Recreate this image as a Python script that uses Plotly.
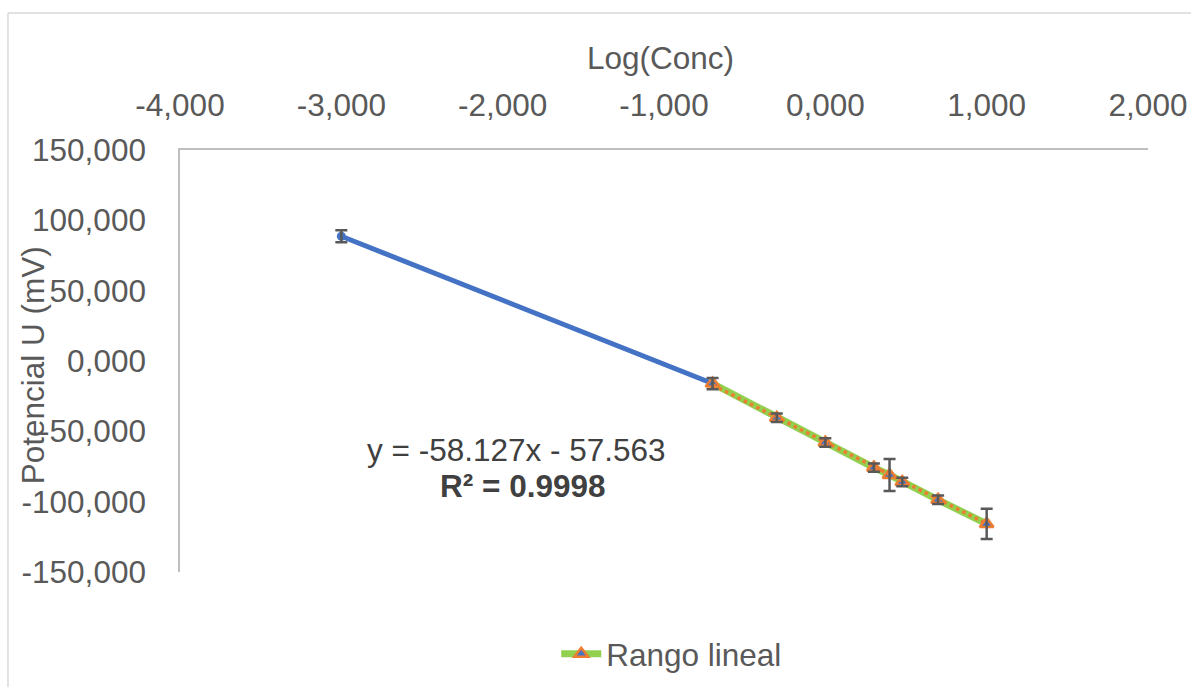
import plotly.graph_objects as go
import numpy as np

# Data
log_conc = [-3.000, -0.699, -0.301, 0.000, 0.301, 0.398, 0.477, 0.699, 1.000]
potencial = [88.7, -16.0, -40.3, -58.0, -75.8, -81.0, -86.0, -98.7, -115.8]
error_mv = [4.3, 4.0, 3.0, 3.0, 3.0, 11.4, 3.0, 3.0, 10.7]

# Linear range (Rango lineal) = all points except the first
lin_x = log_conc[1:]
lin_y = potencial[1:]

# Tick values / labels (hyphen minus as in the reference)
x_ticks = [-4, -3, -2, -1, 0, 1, 2]
x_ticktext = ["-4,000", "-3,000", "-2,000", "-1,000", "0,000", "1,000", "2,000"]
y_ticks = [150, 100, 50, 0, -50, -100, -150]
y_ticktext = ["150,000", "100,000", "50,000", "0,000", "-50,000", "-100,000", "-150,000"]

# Trendline coefficients (from the equation shown on the chart)
slope = -58.127
intercept = -57.563
eq_text = "y = -58.127x - 57.563"
r2_text = "<b>R² = 0.9998</b>"

FONT = "Liberation Sans, Arial, sans-serif"
GREY = "#595959"
FS = 31.5

fig = go.Figure()

fig.add_trace(go.Scatter(
    x=log_conc, y=potencial, mode="lines+markers", name="Serie1",
    showlegend=False,
    line=dict(color="#4472C4", width=5),
    marker=dict(symbol="circle", size=9, color="#4472C4"),
))

fig.add_trace(go.Scatter(
    x=lin_x, y=lin_y, mode="lines+markers", name="Rango lineal",
    line=dict(color="#92D050", width=7),
    marker=dict(symbol="triangle-up", size=12, color="#4472C4",
                line=dict(color="#ED7D31", width=2.5)),
))

tx = np.array([min(lin_x), max(lin_x)])
fig.add_trace(go.Scatter(
    x=tx, y=slope * tx + intercept, mode="lines", showlegend=False,
    line=dict(color="#ED7D31", width=3.5, dash="dot"), hoverinfo="skip",
))

fig.add_trace(go.Scatter(
    x=log_conc, y=potencial, mode="markers", showlegend=False,
    marker=dict(size=1, color="rgba(0,0,0,0)"),
    error_y=dict(type="data", array=error_mv, visible=True,
                 color="#595959", thickness=2.5, width=6),
    hoverinfo="skip",
))

fig.update_layout(
    width=1191, height=687,
    margin=dict(l=180, r=43, t=150, b=115, autoexpand=False),
    paper_bgcolor="white", plot_bgcolor="white",
    font=dict(family=FONT, size=FS, color=GREY),
    showlegend=True,
    legend=dict(orientation="h", x=0.508, y=-0.194, xanchor="center",
                yanchor="middle", font=dict(size=FS, color=GREY),
                itemwidth=40, bgcolor="rgba(0,0,0,0)"),
    xaxis=dict(side="top", range=[-4, 2], tickvals=x_ticks, ticktext=x_ticktext,
               showgrid=False, zeroline=False,
               showline=True, linecolor="#bfbfbf", linewidth=1.5,
               ticks="", ticklabelstandoff=20, ticklabeloverflow="allow",
               tickfont=dict(size=FS, color=GREY)),
    yaxis=dict(range=[-150, 150], tickvals=y_ticks, ticktext=y_ticktext,
               showgrid=False, zeroline=False,
               showline=True, linecolor="#bfbfbf", linewidth=1.5,
               ticks="", ticklabelstandoff=26, ticklabeloverflow="allow",
               tickfont=dict(size=FS, color=GREY)),
    annotations=[
        dict(text="Log(Conc)", xref="paper", yref="paper", x=0.4959, y=1.218,
             showarrow=False, font=dict(size=FS, color=GREY),
             xanchor="center", yanchor="middle"),
        dict(text="Potencial U (mV)", xref="paper", yref="paper", x=-0.1518, y=0.49,
             textangle=-90, showarrow=False, font=dict(size=FS, color=GREY),
             xanchor="center", yanchor="middle"),
        dict(text=eq_text, xref="x", yref="y", x=-1.917, y=-63.3,
             showarrow=False, font=dict(size=FS, color="#404040"),
             xanchor="center", yanchor="middle"),
        dict(text=r2_text, xref="x", yref="y", x=-1.88, y=-88.9,
             showarrow=False, font=dict(size=FS, color="#404040"),
             xanchor="center", yanchor="middle"),
    ],
    shapes=[
        dict(type="line", xref="paper", yref="paper", x0=-0.1777, x1=-0.1777,
             y0=-1.0, y1=1.3246, line=dict(color="#d9d9d9", width=1.5)),
        dict(type="line", xref="paper", yref="paper", x0=-0.1777, x1=1.2,
             y0=1.3246, y1=1.3246, line=dict(color="#d9d9d9", width=1.5)),
    ],
)

fig.write_html(
    "out.html",
    config={"displayModeBar": False},
    post_script="document.body.style.margin='0';document.body.style.overflow='hidden';",
)
